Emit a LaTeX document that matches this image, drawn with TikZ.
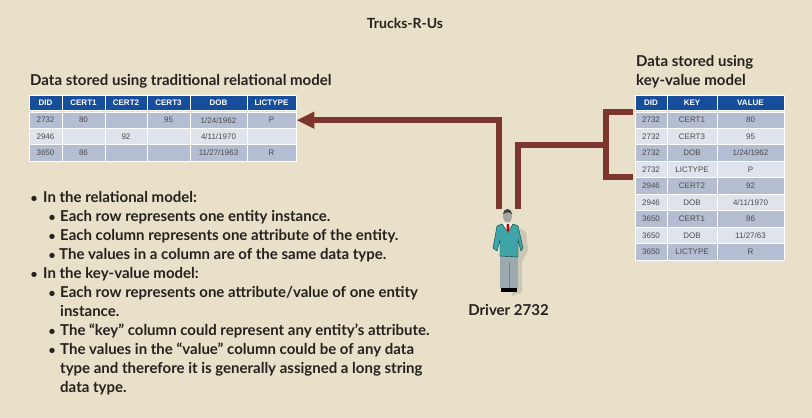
\documentclass[tikz,border=0pt]{standalone}
\usepackage{fontspec}
\setmainfont{Lato}
\newfontfamily\cellfont{Liberation Sans}
\usetikzlibrary{arrows.meta,calc}
\definecolor{pagebg}{HTML}{E8E0C8}
\definecolor{headblue}{HTML}{174E9C}
\definecolor{rowdark}{HTML}{B5BDD3}
\definecolor{rowlight}{HTML}{DFE3EB}
\definecolor{linkred}{HTML}{7C362E}
\definecolor{inkdark}{HTML}{24211F}
\definecolor{cellink}{HTML}{4A4A4A}
\definecolor{jacket}{HTML}{3FA5A8}
\definecolor{trousers}{HTML}{9CA9AE}
\tikzset{
  cell/.style={draw=white,line width=0.9pt,inner sep=0pt,text=cellink,font=\cellfont\fontsize{8}{9}\selectfont},
  headcell/.style={cell,fill=headblue,text=white,font=\cellfont\bfseries\fontsize{8}{9}\selectfont},
  link/.style={draw=linkred,line width=6pt},
  heading/.style={anchor=base west,inner sep=0pt,text=inkdark,font=\bfseries\fontsize{15}{17}\selectfont},
  bodytext/.style={anchor=base west,inner sep=0pt,text=inkdark,font=\bfseries\fontsize{15}{16}\selectfont},
  markdot/.style={anchor=base,inner sep=0pt,text=inkdark,font=\bfseries\fontsize{12}{16}\selectfont}
}
\begin{document}
\begin{tikzpicture}[x=1pt,y=-1pt]
  \fill[pagebg] (0,0) rectangle (812,418);
  \useasboundingbox (0,0) rectangle (812,418);
  \node[heading,anchor=base,font=\bfseries\fontsize{14}{17}\selectfont] (title) at (405,28) {Trucks-R-Us};
  \node[heading] (relhead) at (30,85) {Data stored using traditional relational model};
  \node[heading] (kvheada) at (636,66) {Data stored using};
  \node[heading] (kvheadb) at (636,85) {key-value model};
  % relational table
  \foreach \c/\x/\w/\v in {1/45.5/33/DID,2/83.5/43/CERT1,3/126/42/CERT2,4/168.5/43/CERT3,5/218.5/57/DOB,6/271.5/49/LICTYPE}
    \node[headcell,minimum width=\w pt,minimum height=15pt] (rel-0-\c) at (\x,103) {\v};
  \foreach \r/\y/\rowc/\a/\b/\cc/\d/\e/\f in {1/120.2/rowdark/2732/80//95/1\slash 24\slash 1962/P,2/136.5/rowlight/2946//92//4\slash 11\slash 1970/,3/152.8/rowdark/3650/86///11\slash 27\slash 1963/R}
    \foreach \c/\x/\w/\v in {1/45.5/33/\a,2/83.5/43/\b,3/126/42/\cc,4/168.5/43/\d,5/218.5/57/\e,6/271.5/49/\f}
      \node[cell,fill=\rowc,minimum width=\w pt,minimum height=16.3pt] (rel-\r-\c) at (\x,\y) {\v};
  % key-value table
  \foreach \c/\x/\w/\v in {1/651/32/DID,2/692/50/KEY,3/750.5/67/VALUE}
    \node[headcell,minimum width=\w pt,minimum height=15pt] (kv-0-\c) at (\x,103) {\v};
  \foreach \r/\rowc/\a/\b/\cc [evaluate=\r as \y using 103.8+16.44*\r] in {1/rowdark/2732/CERT1/80,2/rowlight/2732/CERT3/95,3/rowdark/2732/DOB/1\slash 24\slash 1962,4/rowlight/2732/LICTYPE/P,5/rowdark/2946/CERT2/92,6/rowlight/2946/DOB/4\slash 11\slash 1970,7/rowdark/3650/CERT1/86,8/rowlight/3650/DOB/11\slash 27\slash 63,9/rowdark/3650/LICTYPE/R}
    \foreach \c/\x/\w/\v in {1/651/32/\a,2/692/50/\b,3/750.5/67/\cc}
      \node[cell,fill=\rowc,minimum width=\w pt,minimum height=16.44pt] (kv-\r-\c) at (\x,\y) {\v};
  % connectors
  \coordinate (drvleft) at (499,209);
  \coordinate (drvright) at (518,209);
  \coordinate (kvjoin) at (605.5,145);
  \draw[link,-{Triangle[length=18pt,width=16pt]}] (drvleft) |- (rel-1-6.east);
  \draw[link] (drvright) |- (kvjoin);
  \draw[link,shorten <=2pt,shorten >=2pt] (kv-1-1.north west) -| (kvjoin) |- (kv-5-1.north west);
  % driver figure
  \fill[black!45,opacity=0.3] (520,228) -- (526,232) -- (528,250) -- (522,262) -- (522,292) -- (512,296) -- (512,250) -- cycle;
  \fill[trousers] (500,254) -- (518,254) -- (518,288) -- (500,288) -- cycle;
  \draw[black!50,line width=0.4pt] (509,262) -- (509,288);
  \fill[black] (501,288) rectangle (517,292);
  \fill[jacket,draw=teal!50!black,line width=0.4pt] (502,224) -- (497,226) -- (493,248) -- (497,251) -- (500,240) -- (500,256) -- (518,257) -- (518,240) -- (521,251) -- (523,248) -- (518,226) -- (513,224) -- (508,232) -- cycle;
  \fill[white] (503,223.5) -- (512,223.5) -- (508,232) -- cycle;
  \fill[red!75!black] (506.5,224) -- (509,224) -- (509.5,229) -- (508,233) -- (506.5,229) -- cycle;
  \fill[black!35] (507.5,216) ellipse (4.5pt and 6.5pt);
  \fill[black!75] (503,214) arc[start angle=180,end angle=0,x radius=4.5pt,y radius=5pt] -- (508,212) -- cycle;
  \node[heading,anchor=base] (drvlabel) at (508.5,315) {Driver 2732};
  % bullet list
  \foreach \n/\bx/\tx/\y/\txt in {
    a/34/43/202/In the relational model:,
    b/52/60/221/Each row represents one entity instance.,
    c/52/60/240/Each column represents one attribute of the entity.,
    d/52/59/259/The values in a column are of the same data type.,
    e/34/43/278/In the key-value model:,
    f/52/60/297/Each row represents one attribute\slash value of one entity,
    h/52/60/335/The “key” column could represent any entity’s attribute.,
    i/52/60/354/The values in the “value” column could be of any data}
  {
    \node[markdot] (mark-\n) at (\bx,\y) {•};
    \node[bodytext] (line-\n) at (\tx,\y) {\txt};
  }
  \node[bodytext] (line-g) at (60,316) {instance.};
  \node[bodytext] (line-j) at (60,373) {type and therefore it is generally assigned a long string};
  \node[bodytext] (line-k) at (60,392) {data type.};
\end{tikzpicture}
\end{document}
